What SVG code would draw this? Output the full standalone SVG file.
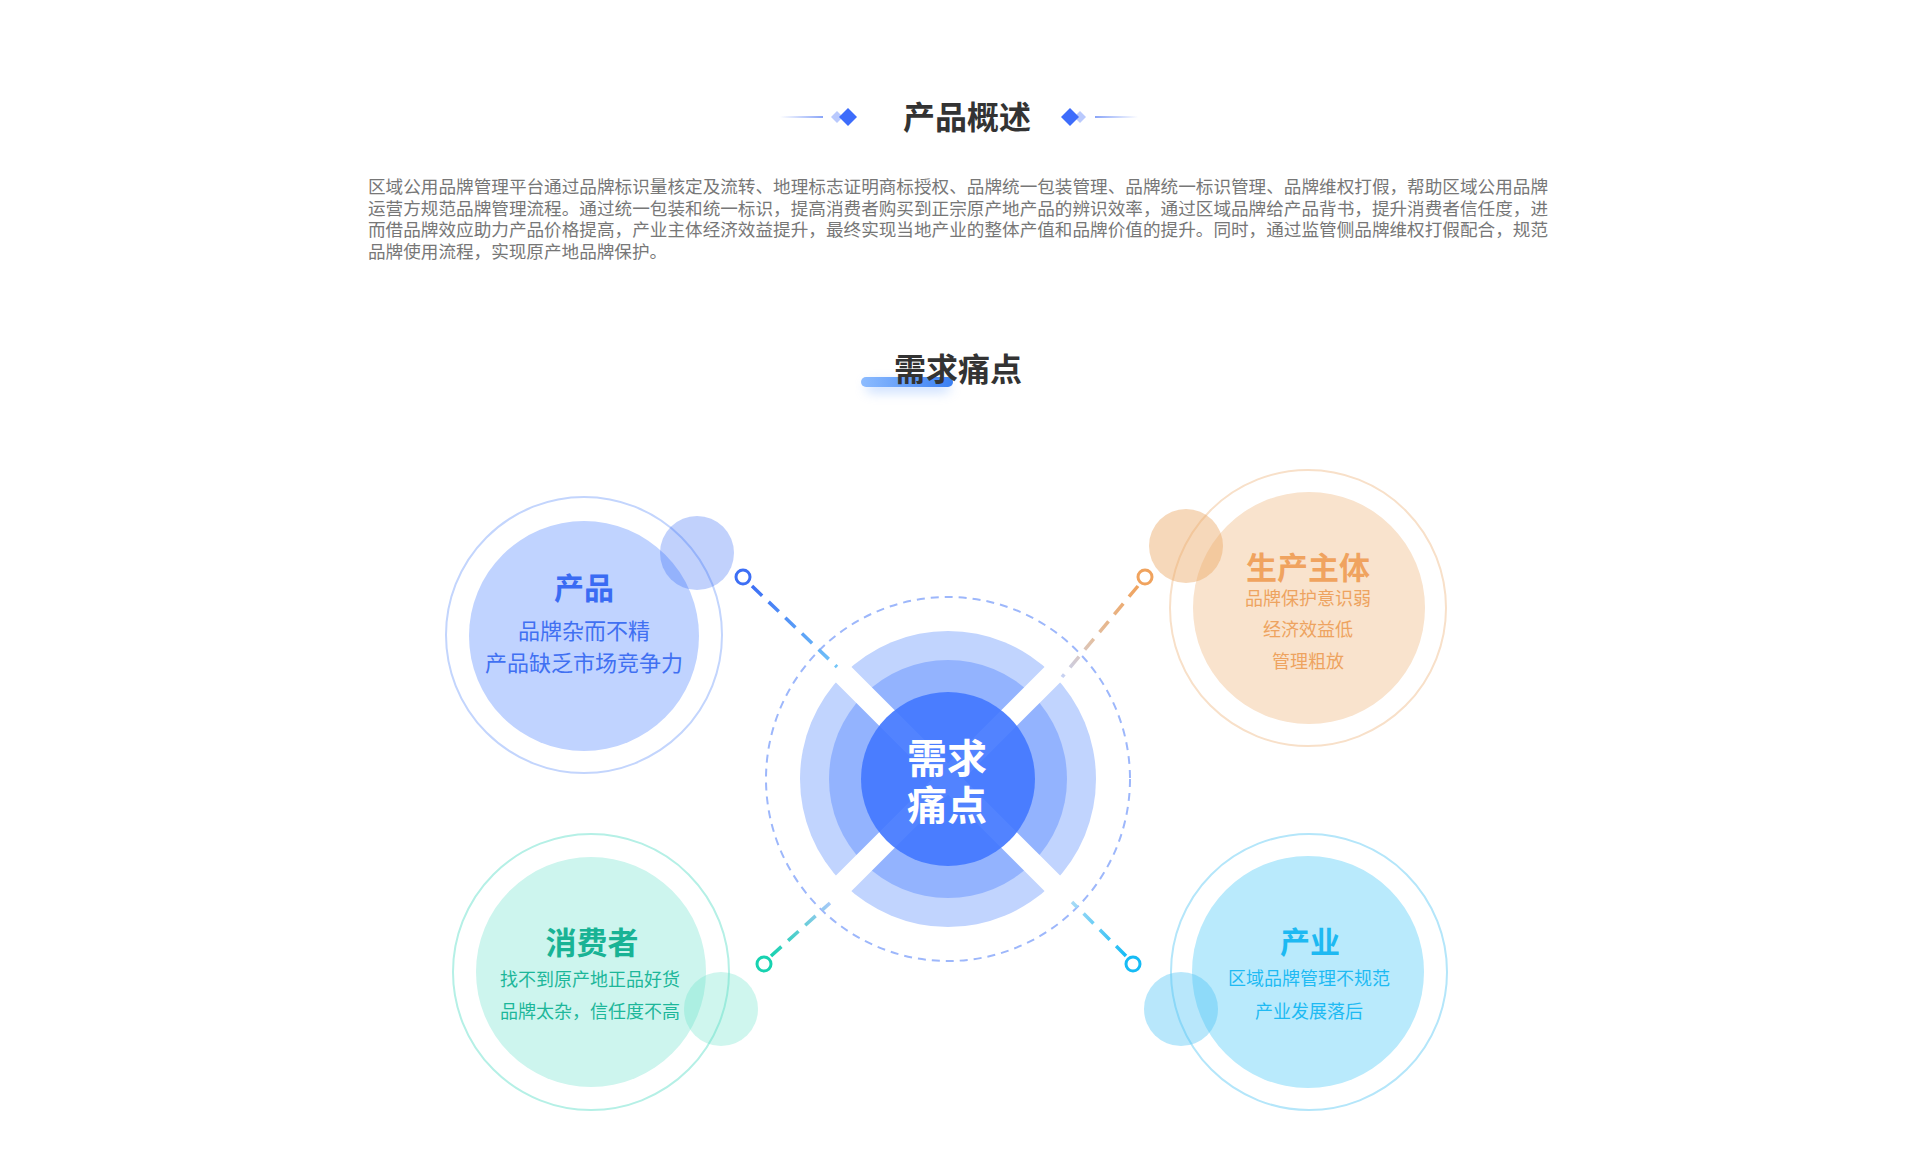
<svg xmlns="http://www.w3.org/2000/svg" width="1920" height="1159" viewBox="0 0 1920 1159">
<defs>
<style>
text{font-family:'Noto Sans CJK SC','Noto Sans',sans-serif;}
.h{font-size:32px;font-weight:700;fill:#333333;text-anchor:middle;}
.p{font-size:17.6px;fill:#777777;}
.t{font-weight:700;text-anchor:middle;}
.l{text-anchor:middle;}
.dot{fill:#ffffff;stroke-width:3;}
.con{fill:none;stroke-width:3.5;stroke-dasharray:14 9;}
</style>
<linearGradient id="gl" x1="780" y1="0" x2="823" y2="0" gradientUnits="userSpaceOnUse"><stop offset="0" stop-color="#8aa5f8" stop-opacity="0"/><stop offset="1" stop-color="#8aa5f8"/></linearGradient>
<linearGradient id="gr" x1="1095" y1="0" x2="1138" y2="0" gradientUnits="userSpaceOnUse"><stop offset="0" stop-color="#8aa5f8"/><stop offset="1" stop-color="#8aa5f8" stop-opacity="0"/></linearGradient>
<linearGradient id="bar" x1="0" y1="0" x2="1" y2="0"><stop offset="0" stop-color="#8dbcff"/><stop offset="1" stop-color="#3a7ff2"/></linearGradient>
<filter id="glow" x="-50%" y="-200%" width="200%" height="500%"><feGaussianBlur stdDeviation="6"/></filter>
<linearGradient id="c1" x1="752" y1="586" x2="837" y2="667" gradientUnits="userSpaceOnUse"><stop offset="0" stop-color="#3d6ff5"/><stop offset="1" stop-color="#72c6f8"/></linearGradient>
<linearGradient id="c2" x1="1138" y1="586" x2="1062" y2="677" gradientUnits="userSpaceOnUse"><stop offset="0" stop-color="#f0a35e"/><stop offset="0.6" stop-color="#e2c0a4"/><stop offset="1" stop-color="#c6d2f4"/></linearGradient>
<linearGradient id="c3" x1="771" y1="956" x2="830" y2="903" gradientUnits="userSpaceOnUse"><stop offset="0" stop-color="#17d2b0"/><stop offset="1" stop-color="#a6c9f8"/></linearGradient>
<linearGradient id="c4" x1="1126" y1="956" x2="1072" y2="902" gradientUnits="userSpaceOnUse"><stop offset="0" stop-color="#16bbf5"/><stop offset="1" stop-color="#a8dbf6"/></linearGradient>
</defs>
<rect width="1920" height="1159" fill="#ffffff"/>

<g id="title">
<line x1="780" y1="117" x2="823" y2="117" stroke="url(#gl)" stroke-width="2"/>
<polygon points="837,111 843,117 837,123 831,117" fill="#b9c9fd"/>
<polygon points="848,108 857,117 848,126 839,117" fill="#3d6cfb"/>
<text class="h" x="967" y="129">产品概述</text>
<polygon points="1080,111 1086,117 1080,123 1074,117" fill="#b9c9fd"/>
<polygon points="1070,108 1079,117 1070,126 1061,117" fill="#3d6cfb"/>
<line x1="1095" y1="117" x2="1138" y2="117" stroke="url(#gr)" stroke-width="2"/>
</g>

<g id="intro">
<text class="p" x="368" y="193" textLength="1180" lengthAdjust="spacing">区域公用品牌管理平台通过品牌标识量核定及流转、地理标志证明商标授权、品牌统一包装管理、品牌统一标识管理、品牌维权打假，帮助区域公用品牌</text>
<text class="p" x="368" y="214.5" textLength="1180" lengthAdjust="spacing">运营方规范品牌管理流程。通过统一包装和统一标识，提高消费者购买到正宗原产地产品的辨识效率，通过区域品牌给产品背书，提升消费者信任度，进</text>
<text class="p" x="368" y="236" textLength="1180" lengthAdjust="spacing">而借品牌效应助力产品价格提高，产业主体经济效益提升，最终实现当地产业的整体产值和品牌价值的提升。同时，通过监管侧品牌维权打假配合，规范</text>
<text class="p" x="368" y="257.5">品牌使用流程，实现原产地品牌保护。</text>
</g>

<g id="subtitle">
<rect x="866" y="382" width="84" height="10" rx="5" fill="#9cc2ff" opacity="0.6" filter="url(#glow)"/>
<rect x="861" y="377" width="92" height="10" rx="5" fill="url(#bar)"/>
<text class="h" x="958" y="381">需求痛点</text>
</g>

<g id="center">
<circle cx="948" cy="779" r="182" fill="none" stroke="#9db7fb" stroke-width="2" stroke-dasharray="8 6"/>
<circle cx="948" cy="779" r="148" fill="#c1d4fe"/>
<circle cx="948" cy="779" r="119" fill="#93b3fe"/>
<g transform="translate(948,779) rotate(45)"><rect x="-156" y="-11" width="312" height="22" fill="#ffffff"/></g>
<g transform="translate(948,779) rotate(-45)"><rect x="-156" y="-11" width="312" height="22" fill="#ffffff"/></g>
<circle cx="948" cy="779" r="87" fill="#4378ff" opacity="0.92"/>
<text class="t" x="947" y="773" font-size="40" fill="#ffffff">需求</text>
<text class="t" x="947" y="820" font-size="40" fill="#ffffff">痛点</text>
</g>

<g id="connectors">
<path class="con" d="M752,586 L837,667" stroke="url(#c1)"/>
<circle class="dot" cx="743" cy="577" r="7" stroke="#3d6ff5"/>
<path class="con" d="M1138,586 L1062,677" stroke="url(#c2)"/>
<circle class="dot" cx="1145" cy="577" r="7" stroke="#f0a35e"/>
<path class="con" d="M771,956 L830,903" stroke="url(#c3)"/>
<circle class="dot" cx="764" cy="964" r="7" stroke="#17d2b0"/>
<path class="con" d="M1126,956 L1072,902" stroke="url(#c4)"/>
<circle class="dot" cx="1133" cy="964" r="7" stroke="#16bbf5"/>
</g>

<g id="node-product">
<circle cx="584" cy="635" r="138" fill="none" stroke="#c3d5fd" stroke-width="2"/>
<circle cx="584" cy="636" r="115" fill="#c0d3ff"/>
<circle cx="697" cy="553" r="37" fill="#2860f5" opacity="0.29"/>
<text class="t" x="584" y="599" font-size="30" fill="#3a6bf3">产品</text>
<text class="l" x="584" y="639" font-size="22" fill="#4070f2">品牌杂而不精</text>
<text class="l" x="584" y="671" font-size="22" fill="#4070f2">产品缺乏市场竞争力</text>
</g>

<g id="node-producer">
<circle cx="1308" cy="608" r="138" fill="none" stroke="#f8e0c9" stroke-width="2"/>
<circle cx="1309" cy="608" r="116" fill="#f9e3cd"/>
<circle cx="1186" cy="546" r="37" fill="#eba965" opacity="0.45"/>
<text class="t" x="1308" y="579" font-size="31" fill="#f0a35f">生产主体</text>
<text class="l" x="1308" y="605" font-size="18" fill="#eea360">品牌保护意识弱</text>
<text class="l" x="1308" y="636" font-size="18" fill="#eea360">经济效益低</text>
<text class="l" x="1308" y="668" font-size="18" fill="#eea360">管理粗放</text>
</g>

<g id="node-consumer">
<circle cx="591" cy="972" r="138" fill="none" stroke="#b5f0e6" stroke-width="2"/>
<circle cx="591" cy="972" r="115" fill="#cdf5ee"/>
<circle cx="721" cy="1009" r="37" fill="#5fe0c8" opacity="0.3"/>
<text class="t" x="592" y="954" font-size="31" fill="#19b395">消费者</text>
<text class="l" x="590" y="986" font-size="18" fill="#1db79a">找不到原产地正品好货</text>
<text class="l" x="590" y="1018" font-size="18" fill="#1db79a">品牌太杂，信任度不高</text>
</g>

<g id="node-industry">
<circle cx="1309" cy="972" r="138" fill="none" stroke="#b4e6fa" stroke-width="2"/>
<circle cx="1308" cy="972" r="116" fill="#b9eafc"/>
<circle cx="1181" cy="1009" r="37" fill="#4ec4f5" opacity="0.4"/>
<text class="t" x="1310" y="953" font-size="30" fill="#1db9f2">产业</text>
<text class="l" x="1309" y="985" font-size="18" fill="#1ebaf3">区域品牌管理不规范</text>
<text class="l" x="1309" y="1018" font-size="18" fill="#1ebaf3">产业发展落后</text>
</g>
</svg>
